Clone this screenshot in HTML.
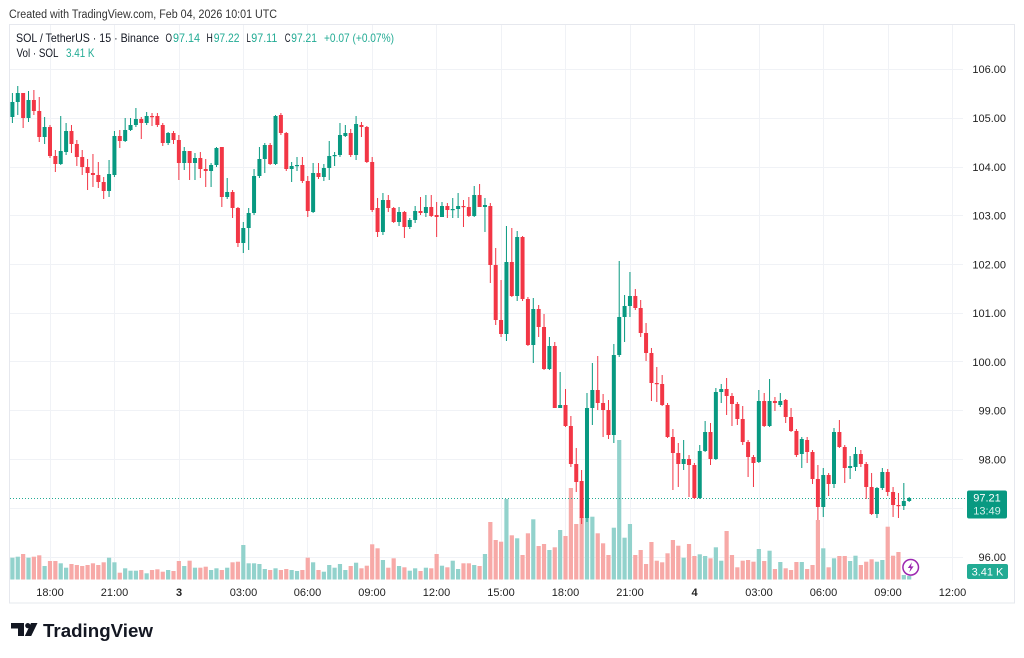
<!DOCTYPE html>
<html>
<head>
<meta charset="utf-8">
<style>
  html,body{margin:0;padding:0;background:#fff;}
  body{width:1024px;height:658px;overflow:hidden;}
  svg{display:block;font-family:"Liberation Sans",Arial,sans-serif;}
</style>
</head>
<body>
<svg id="c" width="1024" height="658" viewBox="0 0 1024 658" xmlns="http://www.w3.org/2000/svg">
  <rect x="0" y="0" width="1024" height="658" fill="#fff"/>
  <!-- header -->
  <text x="9" y="18" font-size="11.5" fill="#333" textLength="268" lengthAdjust="spacingAndGlyphs">Created with TradingView.com, Feb 04, 2026 10:01 UTC</text>

  <!-- frame -->
  <rect x="9.5" y="24.5" width="1005" height="578.5" fill="none" stroke="#e6e8ee" stroke-width="1"/>

  <!-- grid -->
  <g stroke="#f0f2f6" stroke-width="1">
    <line x1="10" x2="963" y1="69.5" y2="69.5"/>
    <line x1="10" x2="963" y1="118.5" y2="118.5"/>
    <line x1="10" x2="963" y1="167.5" y2="167.5"/>
    <line x1="10" x2="963" y1="215.5" y2="215.5"/>
    <line x1="10" x2="963" y1="264.5" y2="264.5"/>
    <line x1="10" x2="963" y1="313.5" y2="313.5"/>
    <line x1="10" x2="963" y1="361.5" y2="361.5"/>
    <line x1="10" x2="963" y1="410.5" y2="410.5"/>
    <line x1="10" x2="963" y1="459.5" y2="459.5"/>
    <line x1="10" x2="963" y1="508.5" y2="508.5"/>
    <line x1="10" x2="963" y1="557.5" y2="557.5"/>
    <line y1="25" y2="580" x1="50.5" x2="50.5"/>
    <line y1="25" y2="580" x1="114.5" x2="114.5"/>
    <line y1="25" y2="580" x1="179.5" x2="179.5"/>
    <line y1="25" y2="580" x1="243.5" x2="243.5"/>
    <line y1="25" y2="580" x1="307.5" x2="307.5"/>
    <line y1="25" y2="580" x1="372.5" x2="372.5"/>
    <line y1="25" y2="580" x1="436.5" x2="436.5"/>
    <line y1="25" y2="580" x1="501.5" x2="501.5"/>
    <line y1="25" y2="580" x1="565.5" x2="565.5"/>
    <line y1="25" y2="580" x1="630.5" x2="630.5"/>
    <line y1="25" y2="580" x1="694.5" x2="694.5"/>
    <line y1="25" y2="580" x1="759.5" x2="759.5"/>
    <line y1="25" y2="580" x1="823.5" x2="823.5"/>
    <line y1="25" y2="580" x1="888.5" x2="888.5"/>
    <line y1="25" y2="580" x1="952.5" x2="952.5"/>
  </g>

  <g id="vol"></g>
  <line x1="10" x2="966" y1="498.5" y2="498.5" stroke="#22ab94" stroke-width="1" stroke-dasharray="1 2"/>
  <g id="cdl"></g>

  <!-- legend -->
  <g font-size="12">
    <text x="16" y="42" fill="#131722" textLength="143" lengthAdjust="spacingAndGlyphs">SOL / TetherUS · 15 · Binance</text>
    <text x="165.5" y="42" fill="#131722" textLength="6.5" lengthAdjust="spacingAndGlyphs">O</text>
    <text x="173" y="42" fill="#22ab94" textLength="27" lengthAdjust="spacingAndGlyphs">97.14</text>
    <text x="206.5" y="42" fill="#131722" textLength="6.3" lengthAdjust="spacingAndGlyphs">H</text>
    <text x="213.7" y="42" fill="#22ab94" textLength="25.8" lengthAdjust="spacingAndGlyphs">97.22</text>
    <text x="246.5" y="42" fill="#131722" textLength="4.3" lengthAdjust="spacingAndGlyphs">L</text>
    <text x="251.3" y="42" fill="#22ab94" textLength="26" lengthAdjust="spacingAndGlyphs">97.11</text>
    <text x="284.8" y="42" fill="#131722" textLength="5.8" lengthAdjust="spacingAndGlyphs">C</text>
    <text x="291.3" y="42" fill="#22ab94" textLength="25.6" lengthAdjust="spacingAndGlyphs">97.21</text>
    <text x="324" y="42" fill="#22ab94" textLength="70" lengthAdjust="spacingAndGlyphs">+0.07 (+0.07%)</text>
    <text x="16.5" y="57" fill="#131722" textLength="42" lengthAdjust="spacingAndGlyphs">Vol · SOL</text>
    <text x="66" y="57" fill="#22ab94" textLength="28.5" lengthAdjust="spacingAndGlyphs">3.41 K</text>
  </g>

  <!-- price axis -->
  <g font-size="11" fill="#222" text-anchor="end">
    <text x="1006" y="73">106.00</text>
    <text x="1006" y="122">105.00</text>
    <text x="1006" y="171">104.00</text>
    <text x="1006" y="219.5">103.00</text>
    <text x="1006" y="268.5">102.00</text>
    <text x="1006" y="317">101.00</text>
    <text x="1006" y="366">100.00</text>
    <text x="1006" y="414.5">99.00</text>
    <text x="1006" y="463.5">98.00</text>
    <text x="1006" y="561">96.00</text>
  </g>
  <!-- last price label -->
  <rect x="967" y="490.5" width="40" height="28" rx="2" fill="#089981"/>
  <text x="987" y="501.5" font-size="11" fill="#fff" text-anchor="middle">97.21</text>
  <text x="987" y="514.5" font-size="11" fill="#d5f0eb" text-anchor="middle">13:49</text>
  <rect x="967" y="564" width="41" height="15" rx="2" fill="#22ab94"/>
  <text x="987.5" y="575.5" font-size="11" fill="#fff" text-anchor="middle">3.41 K</text>

  <!-- lightning icon -->
  <circle cx="910.7" cy="567.3" r="7.8" fill="#fff" stroke="#9c27b0" stroke-width="1.5"/>
  <path d="M912,562.3 L907.8,568 L910.5,568 L909.3,572.4 L913.6,566.4 L910.9,566.4 Z" fill="#9c27b0"/>

  <!-- time axis -->
  <g font-size="11" fill="#222" text-anchor="middle">
    <text x="50" y="596">18:00</text>
    <text x="114.5" y="596">21:00</text>
    <text x="179" y="596" font-weight="bold">3</text>
    <text x="243.5" y="596">03:00</text>
    <text x="307.5" y="596">06:00</text>
    <text x="372" y="596">09:00</text>
    <text x="436.5" y="596">12:00</text>
    <text x="501" y="596">15:00</text>
    <text x="565.5" y="596">18:00</text>
    <text x="630" y="596">21:00</text>
    <text x="694.5" y="596" font-weight="bold">4</text>
    <text x="759" y="596">03:00</text>
    <text x="823.5" y="596">06:00</text>
    <text x="888" y="596">09:00</text>
    <text x="952.5" y="596">12:00</text>
  </g>

  <!-- logo -->
  <path d="M11,623 H24 V636 H18 V628.5 H11 Z" fill="#131722"/>
  <circle cx="27.8" cy="625.6" r="2.6" fill="#131722"/>
  <path d="M31,623 H37.5 L31.2,636 H24.8 Z" fill="#131722"/>
  <text x="43" y="637" font-size="18.5" font-weight="bold" fill="#131722" textLength="110" lengthAdjust="spacingAndGlyphs">TradingView</text>
</svg>
<script>
(function(){
var D=[[117,93,123,102],[102,86,115,93],[93,93,128,118],[118,91,122,100],[100,90,115,111],[111,97,142,137],[137,117,144,127],[127,125,158,156],[156,150,172,164],[164,116,165,151],
[152,123,155,131],[131,125,153,144],[144,140,166,157],[157,150,175,167],[167,159,190,173],[173,154,187,175],[175,162,188,182],[182,177,199,191],[191,160,197,174],[175,131,177,136],
[136,130,148,141],[141,118,142,130],[130,118,131,125],[125,108,127,119],[119,117,139,123],[123,112,125,116],[116,113,126,117],[116,113,127,125],[125,123,146,143],[143,132,145,133],
[133,131,144,140],[140,135,180,163],[163,147,170,151],[151,151,180,163],[163,153,180,158],[158,152,178,169],[169,159,187,171],[171,163,187,165],[165,147,167,148],[147,147,207,197],
[197,178,199,192],[192,190,218,208],[208,207,247,243],[243,222,253,228],[228,208,250,213],[213,169,215,176],[176,147,178,159],[159,143,173,145],[145,143,165,164],[164,115,165,116],
[115,113,135,133],[133,132,171,169],[169,162,182,166],[166,157,171,165],[165,157,183,181],[181,176,217,211],[212,163,213,173],[173,163,179,177],[177,164,181,168],[168,141,180,156],
[156,152,166,155],[155,123,157,135],[136,125,137,133],[133,129,157,155],[155,116,160,124],[125,122,137,127],[127,126,163,162],[162,157,212,210],[208,198,237,232],[232,193,235,200],
[200,195,212,208],[208,207,223,222],[222,207,226,212],[212,211,238,227],[227,218,229,220],[220,206,223,211],[211,197,215,213],[213,195,217,207],[207,195,217,216],[215,202,237,217],
[217,202,217,206],[206,203,218,210],[210,198,218,209],[209,193,218,206],[206,200,227,207],[207,197,217,216],[216,186,217,195],[195,184,207,207],[207,198,232,205],[206,203,283,265],
[265,248,325,320],[320,280,337,334],[334,226,341,262],[262,228,297,296],[296,231,301,237],[237,236,301,299],[299,297,346,345],[345,298,363,309],[309,305,337,327],[327,314,370,369],
[369,337,370,346],[346,342,408,408],[408,372,408,405],[405,389,427,426],[426,416,467,464],[464,448,492,482],[481,470,524,518],[518,393,522,408],[408,363,425,390],[390,356,410,403],
[403,394,437,410],[410,400,439,435],[435,344,443,355],[355,261,357,317],[317,295,342,306],[306,272,317,296],[296,289,310,308],[308,300,337,333],[333,323,361,353],[353,348,401,383],
[383,367,402,384],[384,375,406,405],[405,403,438,437],[437,429,490,453],[453,443,487,464],[464,440,470,459],[459,455,497,465],[465,463,499,498],[498,445,499,451],[451,421,452,432],
[432,423,465,459],[459,388,460,392],[392,384,403,389],[389,378,415,396],[396,393,426,404],[404,402,425,419],[419,406,445,442],[442,440,477,457],[457,455,487,463],[462,390,463,401],
[401,393,427,426],[426,379,427,401],[401,397,411,403],[405,393,407,401],[400,399,423,417],[417,408,432,431],[431,429,457,455],[454,437,468,439],[440,437,463,452],[452,450,484,479],
[479,465,520,507],[507,468,517,475],[475,473,496,484],[484,428,488,432],[432,420,448,447],[447,445,483,468],[468,456,479,466],[467,447,471,454],[454,450,467,464],[464,462,499,487],
[487,473,515,514],[514,487,518,488],[488,468,490,472],[472,469,496,492],[492,487,517,505],[505,493,518,506],[506,483,510,501],[501,497,502,498]];
var V=[557.7,556.7,554,557.7,556.7,555.3,566,561,561,563.3,567.7,564,565,566,565,563.3,565,562.3,557.7,562.3,
572.7,568.3,570.7,570.7,570,573.3,570,569.3,571.7,570,571,561,566,560.7,567.7,567.7,566.7,570,568.3,570,
567.7,562.3,561.7,545,563.3,563.3,564,569,570,568.3,570,569,570,571,570,557.7,562.3,570,571.7,565,
567.7,564,570,566,562.7,568.3,565.7,544.3,548.3,560,567.7,558.3,566,567.3,570.7,568.3,571,567.7,568.3,554,
565.7,567.3,560.7,569,563.3,563.3,565,566,554,522,540,541.7,499,535.3,538.3,555,533.3,519.3,546,544,
550,547.3,530,536,488,524,517,516.7,516.7,533.3,543.3,555,527.7,440,537.7,524,555,550,564,542,
560.7,562.3,553.3,540,545.7,557.7,544,556,554.3,556,558.3,547.3,560.7,531,555,567.3,560.7,560,561.7,549,
561,550.7,569,562,568.3,570,562,562,569,565,520,548.3,567.3,558.3,556,556,561,555.7,565,561.7,
559.3,561.7,560,526.7,555.7,552,575,576];
var NS='http://www.w3.org/2000/svg';
var vg=document.getElementById('vol'), cg=document.getElementById('cdl');
function R(g,x,y,w,h,f){var r=document.createElementNS(NS,'rect');r.setAttribute('x',x);r.setAttribute('y',y);r.setAttribute('width',w);r.setAttribute('height',h);r.setAttribute('fill',f);g.appendChild(r);}
for(var i=0;i<D.length;i++){
  var d=D[i],x=12.4+5.37*i,o=d[0],h=d[1],l=d[2],c=d[3];
  var up=c<o||(c==o&&i%2==0);
  var vt=V[i];
  R(vg,x-2.1,vt,4.2,579.5-vt,up?'#92d2cc':'#f7a9a7');
  var col=up?'#089981':'#f23645';
  R(cg,x-0.5,h,1,Math.max(1,l-h),col);
  var t=Math.min(o,c),b=Math.max(o,c);
  R(cg,x-2,t,4,Math.max(1.2,b-t),col);
}
})();
</script>
</body>
</html>
